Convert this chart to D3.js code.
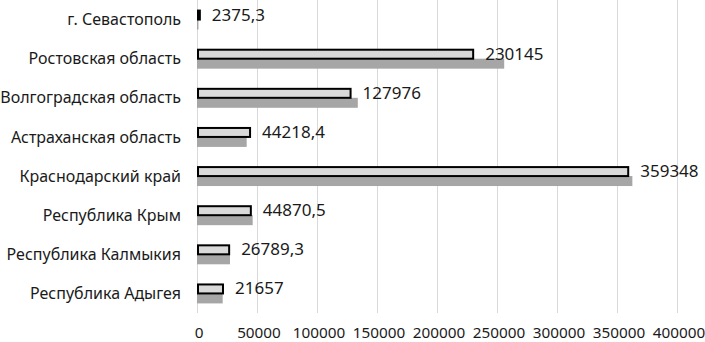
<!DOCTYPE html>
<html>
<head>
<meta charset="utf-8">
<script src="https://cdn.jsdelivr.net/npm/d3@7"></script>
<style>
  body { margin: 0; background: #fff; }
  text { font-family: "Noto Sans", sans-serif; fill: #1a1a1a; }
</style>
</head>
<body>
<div id="chart"></div>
<script>
// categories top to bottom
var regions = ["г. Севастополь", "Ростовская область", "Волгоградская область", "Астраханская область",
    "Краснодарский край", "Республика Крым", "Республика Калмыкия", "Республика Адыгея"];
// labelled series (light bars)
var valuesLight = [2375.3, 230145, 127976, 44218.4, 359348, 44870.5, 26789.3, 21657];
// second series (dark bars)
var valuesDark = [1200, 256000, 134000, 41400, 362800, 46400, 27500, 21400];
var xTicks = [0, 50000, 100000, 150000, 200000, 250000, 300000, 350000, 400000];

var width = 705, height = 342;
var plotLeft = 197, plotRight = 677, plotTop = 0, plotBottom = 313;

var svg = d3.select("#chart").append("svg").attr("width", width).attr("height", height);

var x = d3.scaleLinear().domain([0, 400000]).range([plotLeft, plotRight]);
var y = d3.scaleBand().domain(regions).range([plotTop, plotBottom]).paddingInner(0.49).paddingOuter(0.245);
var ySub = d3.scaleBand().domain(["light", "dark"]).range([0, y.bandwidth()]);

// vertical grid
svg.append("g")
    .selectAll("line")
    .data(xTicks)
    .join("line")
    .attr("x1", d => x(d) + 0.5).attr("x2", d => x(d) + 0.5)
    .attr("y1", plotTop).attr("y2", plotBottom)
    .attr("stroke", "#d9d9d9").attr("stroke-width", 1);

// tick labels
svg.append("g")
    .selectAll("text")
    .data(xTicks)
    .join("text")
    .attr("x", d => x(d) + 2)
    .attr("y", 338)
    .attr("text-anchor", "middle")
    .style("font-size", "15.3px")
    .text(d => d);

// category labels
svg.append("g")
    .selectAll("text")
    .data(regions)
    .join("text")
    .attr("x", 181)
    .attr("y", d => y(d) + y.bandwidth() / 2)
    .attr("dy", "0.35em")
    .attr("text-anchor", "end")
    .style("font-size", "16px")
    .text(d => d);

// dark bars
svg.append("g")
    .selectAll("rect")
    .data(valuesDark)
    .join("rect")
    .attr("x", x(0))
    .attr("y", (d, i) => y(regions[i]) + ySub("dark"))
    .attr("width", d => x(d) - x(0))
    .attr("height", ySub.bandwidth())
    .attr("fill", "#a6a6a6");

// light bars with outline
svg.append("g")
    .selectAll("rect")
    .data(valuesLight)
    .join("rect")
    .attr("x", x(0) + 1)
    .attr("y", (d, i) => y(regions[i]) + ySub("light") + 1)
    .attr("width", d => Math.max(1, x(d) - x(0) - 1))
    .attr("height", ySub.bandwidth() - 1)
    .attr("fill", "#d9d9d9")
    .attr("stroke", "#000")
    .attr("stroke-width", 2);

// value labels
svg.append("g")
    .selectAll("text")
    .data(valuesLight)
    .join("text")
    .attr("x", d => x(d) + 12)
    .attr("y", (d, i) => y(regions[i]) + ySub("light") + ySub.bandwidth() / 2)
    .attr("dy", "0.35em")
    .style("font-size", "17px")
    .text(d => String(d).replace(".", ","));
</script>
</body>
</html>
